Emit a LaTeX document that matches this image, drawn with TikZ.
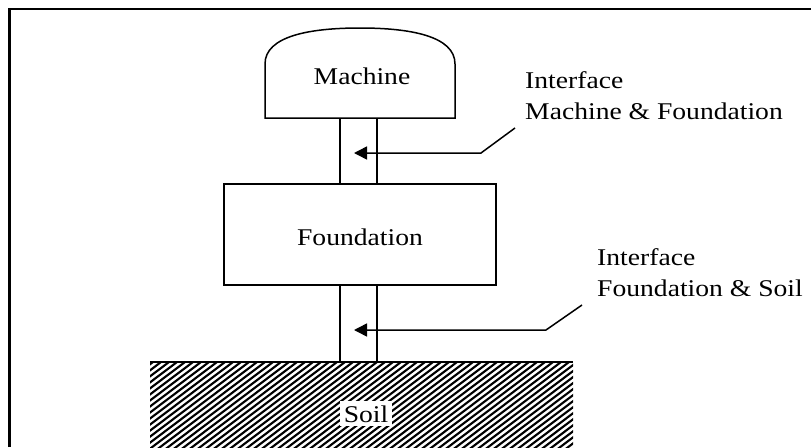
\documentclass[tikz,border=0pt]{standalone}
\usepackage{fontspec}
\setmainfont{Liberation Serif}
\usetikzlibrary{arrows.meta}
\begin{document}
\begin{tikzpicture}[x=1pt,y=-1pt,
  thin line/.style={line width=1.5pt},
  frame line/.style={line width=2.4pt},
  hatch/.style={line width=2.1pt},
  lbl/.style={font=\fontsize{24}{31}\selectfont, xscale=1.15, inner sep=0pt},
  pointer/.style={thin line, -{Triangle[length=13pt,width=13pt]}},
  block/.style={draw, thin line, minimum width=272pt, minimum height=101pt, inner sep=0pt}]
\useasboundingbox (0,0) rectangle (811,447);

% outer frame (open to the right and bottom)
\draw[frame line] (9.5,447) -- (9.5,9) -- (811,9);

% machine: dome-topped body
\draw[thin line] (265,118) -- (265,64)
  .. controls (265,36) and (310,28) .. (360,28)
  .. controls (410,28) and (455,36) .. (455,64)
  -- (455,118) -- cycle;
\node[lbl, anchor=base] (machine) at (362,84) {Machine};
\coordinate (machineL) at (340,118);
\coordinate (machineR) at (377,118);

% foundation block
\node[block] (foundation) at (360,234.5) {};
\node[lbl, anchor=base] (foundationtext) at (360,245) {Foundation};

% soil: hatched ground
\begin{scope}
  \clip (150,362) rectangle (573,460);
  \foreach \i in {0,...,80}
    \draw[hatch] ({-25+\i*8},460) -- ++(-37:220);
\end{scope}
\coordinate (soilL) at (150,362);
\coordinate (soilR) at (573,362);
\draw[thin line] (soilL) -- (soilR);
\node[lbl, fill=white, inner xsep=3pt, inner ysep=4pt, anchor=base] (soil) at (366,422) {Soil};

% interface columns
\draw[thin line] (machineL) -- (machineL |- foundation.north);
\draw[thin line] (machineR) -- (machineR |- foundation.north);
\draw[thin line] (machineL |- foundation.south) -- (machineL |- soilL);
\draw[thin line] (machineR |- foundation.south) -- (machineR |- soilL);

% labels with leader lines
\node[lbl, anchor=base west, align=left] (iface1) at (525,119) {Interface\\Machine \& Foundation};
\node[lbl, anchor=base west, align=left] (iface2) at (597,296) {Interface\\Foundation \& Soil};

\coordinate (lead1) at (515,128);
\coordinate (bend1) at (481,153);
\coordinate (tip1) at (354,153);
\draw[pointer] (lead1) -- (bend1) -- (tip1);

\coordinate (lead2) at (582,305);
\coordinate (bend2) at (546,330);
\coordinate (tip2) at (354,330);
\draw[pointer] (lead2) -- (bend2) -- (tip2);
\end{tikzpicture}
\end{document}
